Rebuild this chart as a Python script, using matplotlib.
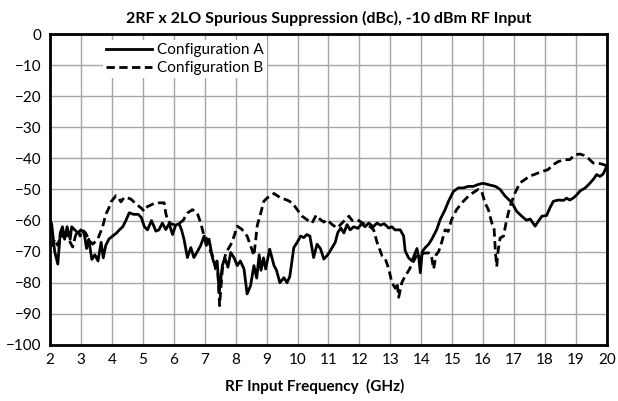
import matplotlib
matplotlib.use("Agg")
import matplotlib.pyplot as plt

plt.rcParams['font.family'] = ['Lato', 'DejaVu Sans']

# Configuration A (solid)
freq_a = [2.0, 2.05, 2.15, 2.25, 2.33, 2.4, 2.47, 2.55, 2.65, 2.7, 2.8, 2.9, 3.0, 3.1, 3.18,
          3.25, 3.35, 3.45, 3.55, 3.65, 3.72, 3.8, 3.9, 4.02, 4.15, 4.24, 4.35, 4.45, 4.56,
          4.7, 4.85, 4.95, 5.05, 5.15, 5.28, 5.42, 5.52, 5.63, 5.74, 5.85, 5.96, 6.06, 6.17,
          6.25, 6.33, 6.44, 6.55, 6.65, 6.76, 6.87, 6.98, 7.05, 7.14, 7.25, 7.33, 7.4, 7.47,
          7.57, 7.65, 7.75, 7.84, 7.95, 8.05, 8.15, 8.27, 8.37, 8.48, 8.59, 8.68, 8.76, 8.82,
          8.9, 8.97, 9.1, 9.24, 9.32, 9.43, 9.56, 9.66, 9.75, 9.88, 9.99, 10.1, 10.2, 10.3,
          10.4, 10.52, 10.63, 10.74, 10.85, 10.98, 11.12, 11.22, 11.3, 11.4, 11.5, 11.6, 11.7,
          11.82, 11.95, 12.08, 12.18, 12.3, 12.45, 12.57, 12.68, 12.8, 12.95, 13.05, 13.15,
          13.32, 13.43, 13.48, 13.59, 13.7, 13.8, 13.86, 13.92, 13.97, 14.03, 14.13, 14.24,
          14.34, 14.5, 14.61, 14.77, 14.88, 15.04, 15.2, 15.36, 15.52, 15.68, 15.84, 16.0,
          16.23, 16.4, 16.55, 16.7, 16.93, 17.08, 17.25, 17.4, 17.52, 17.68, 17.8, 17.9,
          18.05, 18.16, 18.27, 18.43, 18.6, 18.7, 18.8, 18.92, 19.02, 19.13, 19.3, 19.46,
          19.58, 19.67, 19.78, 19.88, 20.0]
vals_a = [-60, -61, -70, -74, -64, -62, -66, -62, -66, -62, -63, -64, -63, -64, -69,
          -66, -72.5, -71, -73, -67, -72, -68, -66, -65, -64, -63, -62, -60, -57.5,
          -58, -58, -59, -62, -63, -60, -63.4, -63, -60.8, -62.9, -61, -64.5, -61.5, -61,
          -63, -66, -71.9, -68.7, -71.9, -70, -68, -65, -68, -66, -72, -74.5, -73, -83,
          -74.5, -72, -75, -70.3, -72, -74.5, -73, -75.6, -83.6, -81, -74.5, -78.5, -71, -76,
          -72, -75.6, -69.2, -74.5, -76, -80, -78.4, -80, -78, -68.7, -67, -65, -65.5, -64.5,
          -65, -71.9, -67.6, -69, -72.4, -71, -68.7, -67, -63.9, -62.4, -64, -61.3, -63,
          -62, -62.5, -61, -62, -60.8, -62, -60.8, -61.5, -61, -62.4, -62, -63,
          -63, -65, -69.8, -72, -73, -70.5, -69, -72, -76.8, -70, -68.7, -67.6,
          -66, -62.9, -59.7, -56.5, -53.8, -50.6, -49.5, -49.5, -49, -49, -48.4, -48,
          -48.6, -49, -50, -52, -54.3, -57, -58.6, -59.9, -59.5, -61.8, -60, -58.6,
          -58.4, -55.9, -53.8, -53.4, -53.5, -52.8, -53.4, -52.7, -51.8, -50.5, -49.5, -47.9,
          -46.5, -45.2, -45.8, -45, -42.5]

# Configuration B (dashed)
freq_b = [2.0, 2.08, 2.15, 2.25, 2.35, 2.45, 2.55, 2.65, 2.73, 2.82, 2.9, 2.97, 3.05, 3.15,
          3.27, 3.38, 3.54, 3.62, 3.7, 3.8, 3.9, 3.97, 4.05, 4.13, 4.2, 4.29, 4.4, 4.6, 4.82,
          4.95, 5.04, 5.15, 5.26, 5.4, 5.69, 5.74, 5.8, 5.9, 6.04, 6.15, 6.3, 6.44, 6.6, 6.76,
          6.87, 6.98, 7.08, 7.19, 7.3, 7.35, 7.42, 7.48, 7.57, 7.68, 7.84, 7.95, 8.05, 8.2,
          8.37, 8.48, 8.59, 8.7, 8.81, 8.91, 9.02, 9.24, 9.45, 9.66, 9.83, 9.99, 10.15, 10.3,
          10.47, 10.6, 10.74, 10.85, 10.95, 11.12, 11.28, 11.44, 11.55, 11.66, 11.77, 11.93,
          12.1, 12.25, 12.35, 12.46, 12.57, 12.73, 12.84, 12.95, 13.05, 13.16, 13.22, 13.27,
          13.37, 13.48, 13.6, 13.7, 13.81, 13.9, 13.97, 14.05, 14.24, 14.32, 14.4, 14.48,
          14.56, 14.66, 14.77, 14.87, 14.98, 15.14, 15.36, 15.52, 15.68, 15.84, 15.95, 16.06,
          16.17, 16.28, 16.35, 16.4, 16.44, 16.48, 16.55, 16.66, 16.76, 16.87, 17.03, 17.19,
          17.35, 17.5, 17.65, 17.8, 17.95, 18.1, 18.27, 18.43, 18.66, 18.8, 18.97, 19.13,
          19.25, 19.4, 19.56, 19.7, 19.9, 20.0]
vals_b = [-68, -68, -66, -68, -64, -66, -64, -67, -68.5, -65, -63, -65, -63, -64,
          -66.5, -67.6, -66, -64, -62, -58, -56, -54, -53, -52, -52.5, -54, -52.5, -53, -55,
          -56, -57, -55.5, -55, -54.3, -54.3, -57.6, -60, -61, -61.5, -61, -60, -57.6, -56.5, -57.6,
          -60.8, -65, -66, -70, -72.4, -75.6, -76, -87.4, -75.6, -70.5, -67.8, -65, -61.8, -62.8,
          -65, -68, -71.3, -61.5, -57.6, -53.8, -52.7, -51.3, -52.7, -53.4, -54.3, -56.5, -58.6, -59.7,
          -60.8, -58.3, -59.7, -60.5, -59.7, -61.3, -62.4, -60.8, -59.7, -58.6, -60, -59.7,
          -60.8, -61.5, -62, -63, -67, -71.3, -72.4, -75.6, -80, -81.8, -80, -84.7,
          -80, -77.8, -76, -74, -72, -70.5, -73, -70.5, -70.4, -71, -75.6, -71,
          -70, -67, -63, -63.5, -59.7, -56.5, -53.8, -52.2, -51, -50, -50.5, -54.3,
          -56.5, -60.8, -62, -70.5, -74.8, -70, -65.6, -65, -59.7, -55.4, -51.1, -47.9,
          -46.8, -45.7, -45.2, -44.6, -44.1, -43.6, -42, -41, -40.4, -40.4, -38.8, -38.6,
          -39, -40, -41.5, -41.5, -42, -42.5]

fig = plt.figure(figsize=(6.18, 4.01), dpi=100)
ax = fig.add_axes([0.081, 0.14, 0.901, 0.775])

ax.plot(freq_a, vals_a, color='black', lw=2.0, label='Configuration A')
ax.plot(freq_b, vals_b, color='black', lw=2.0, linestyle=(0, (3, 1.6)), label='Configuration B')

ax.set_xlim(2, 20)
ax.set_ylim(-100, 0)
ax.set_xticks(range(2, 21))
ax.set_yticks(range(-100, 1, 10))
ax.grid(True, color='#a6a6a6', lw=1.0)
ax.tick_params(length=0, labelsize=11, pad=6)
for s in ax.spines.values():
    s.set_linewidth(2.0)
    s.set_color('black')

ax.set_title('2RF x 2LO Spurious Suppression (dBc), -10 dBm RF Input',
             fontsize=11.5, fontweight='bold', pad=8)
ax.set_xlabel('RF Input Frequency  (GHz)', fontsize=11, fontweight='bold', labelpad=10)
ax.xaxis.set_label_coords(0.476, -0.11)

leg = ax.legend(loc='upper left', bbox_to_anchor=(0.09, 0.99), fontsize=11,
                frameon=True, fancybox=False, handlelength=3.0, handletextpad=0.3,
                borderpad=0.2, labelspacing=0.25, borderaxespad=0.2)
leg.get_frame().set_edgecolor('none')
leg.get_frame().set_facecolor('white')
leg.get_frame().set_alpha(1.0)

fig.savefig('out.png', dpi=100)
